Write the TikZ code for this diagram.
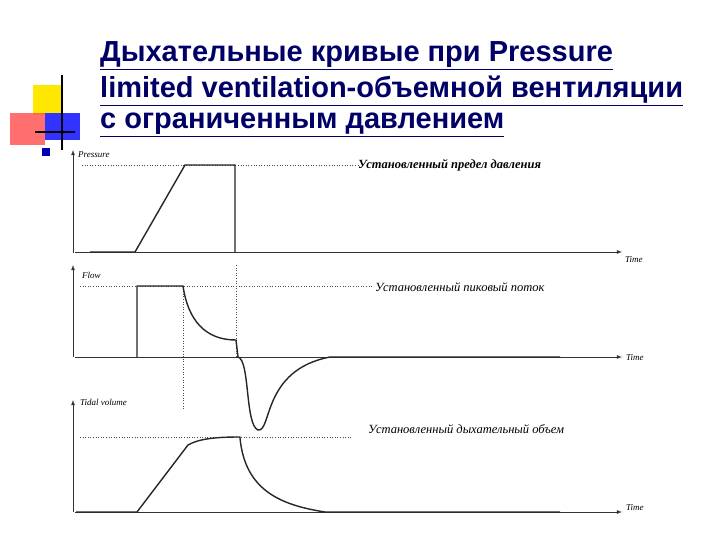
\documentclass[tikz,border=0pt]{standalone}
\usepackage{fontspec}
\setmainfont{Liberation Serif}
\newfontfamily\titlefont{Liberation Sans}
\begin{document}
\begin{tikzpicture}[x=1pt,y=-1pt,
  curve/.style={line width=1.4pt,black!85},
  axis/.style={line width=0.8pt,black!80,-latex},
  guide/.style={dotted,line width=0.6pt,black!70},
  lab/.style={font=\itshape\fontsize{9}{10}\selectfont,inner sep=0pt,anchor=west},
  big/.style={lab,font=\itshape\fontsize{12.5}{14}\selectfont},
  ttl/.style={font=\titlefont\bfseries\fontsize{29}{32}\selectfont,text=blue!40!black,inner sep=0pt,anchor=base west}]
\useasboundingbox[fill=white] (0,0) rectangle (720,540);
% decoration
\fill[yellow!90!orange] (33,85) rectangle (62,115);
\fill[blue!80!white] (45,113) rectangle (80,140);
\fill[red!70!white,opacity=0.8] (10,113) rectangle (45,145);
\draw[line width=1.5pt] (62,75) -- (62,150);
\draw[line width=1.5pt] (35,132) -- (75,132);
\fill[blue!70!black] (42,148) rectangle (50,156);
% title
\node[ttl] (t1) at (100,62) {\underline{Дыхательные кривые при Pressure}};
\node[ttl] (t2) at (100,98) {\underline{limited ventilation-объемной вентиляции}};
\node[ttl] (t3) at (100,129) {\underline{с ограниченным давлением}};
% Pressure panel
\coordinate (p0) at (73,253); \coordinate (p1) at (73,150);
\coordinate (pt0) at (75,252); \coordinate (pt1) at (622,252);
\draw[axis] (p0) -- (p1);
\draw[axis] (pt0) -- (pt1);
\node[lab] (plab) at (78,155) {Pressure};
\node[lab] (ptime) at (625,260) {Time};
\draw[guide] (82,165) -- (358,165);
\node[big] (pset) at (358,165) {\bfseries Установленный предел давления};
\draw[curve] (90,252) -- (135,252) -- (185,165) -- (235,165) -- (235,252);
% Flow panel
\draw[axis] (73,357) -- (73,265);
\draw[axis] (75,357) -- (622,357);
\node[lab] (flab) at (82,275) {Flow};
\node[lab] (ftime) at (626,358) {Time};
\draw[guide] (80,286) -- (372,286);
\draw[guide] (183,286) -- (183,410);
\draw[guide] (236,265) -- (236,357);
\node[big] (fset) at (375,287) {Установленный пиковый поток};
\draw[curve] (137,357) -- (137,286) -- (183,286)
  .. controls (188,320) and (205,340) .. (236,340) -- (238,357)
  .. controls (250,360) and (245,425) .. (258,430)
  .. controls (272,432) and (262,370) .. (330,357) -- (560,357);
% Tidal volume panel
\draw[axis] (73,512) -- (73,400);
\draw[axis] (75,512) -- (622,512);
\node[lab] (vlab) at (80,402) {Tidal volume};
\node[lab] (vtime) at (626,508) {Time};
\draw[guide] (80,437) -- (352,437);
\node[big] (vset) at (368,429) {Установленный дыхательный объем};
\draw[curve] (76,512) -- (137,512) -- (188,445)
  .. controls (200,438) and (220,437) .. (240,437) -- (240,438)
  .. controls (245,490) and (280,505) .. (325,512) -- (560,512);
\end{tikzpicture}
\end{document}
